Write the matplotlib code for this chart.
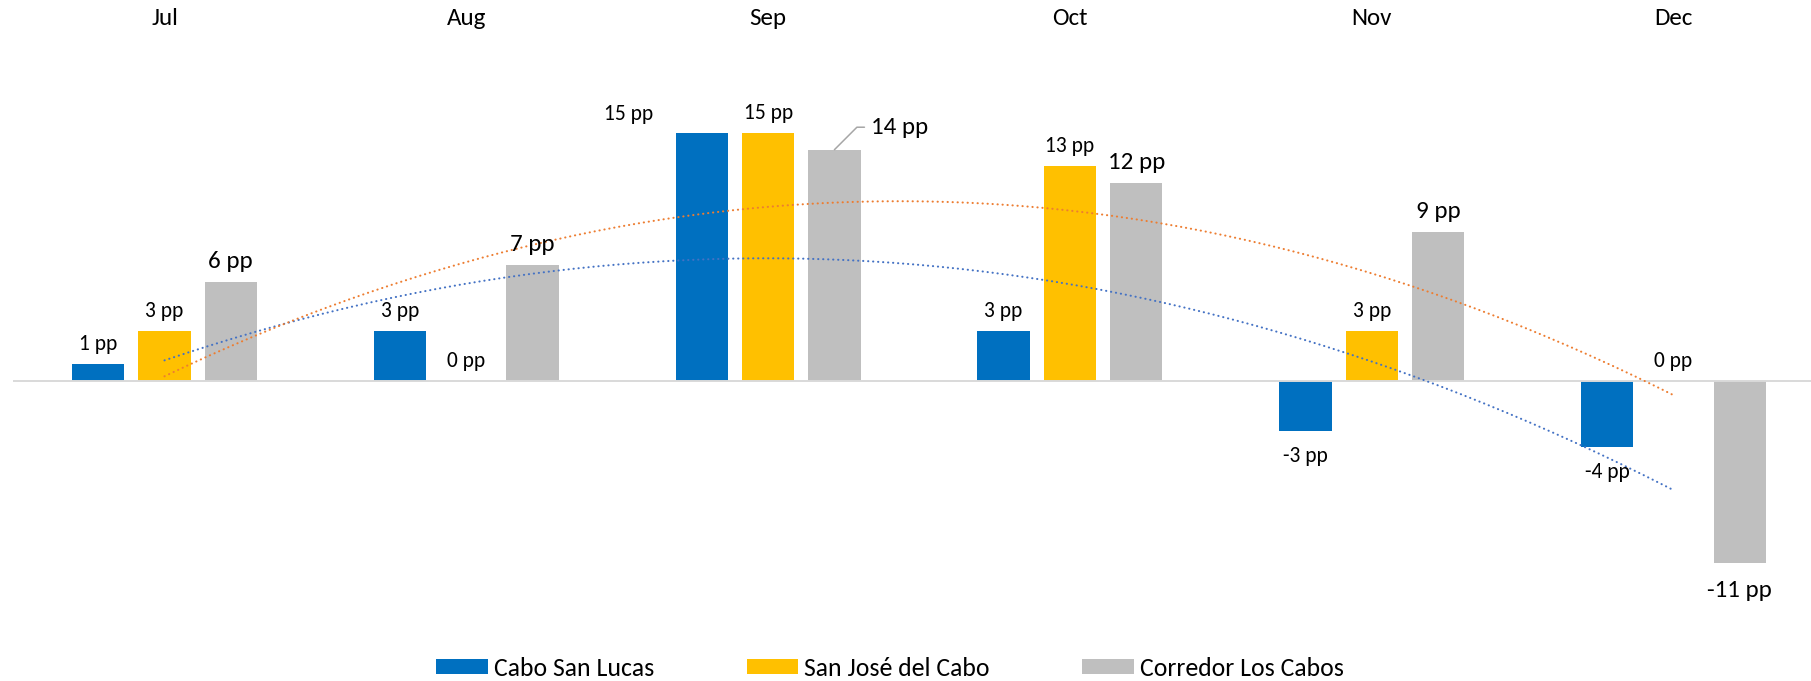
import matplotlib
matplotlib.use("Agg")
import matplotlib.pyplot as plt
import matplotlib.transforms as mtransforms
from matplotlib import font_manager
import numpy as np

months = ["Jul", "Aug", "Sep", "Oct", "Nov", "Dec"]
series_names = ["Cabo San Lucas", "San José del Cabo", "Corredor Los Cabos"]
cabo_san_lucas = [1, 3, 15, 3, -3, -4]
san_jose = [3, 0, 15, 13, 3, 0]
corredor = [6, 7, 14, 12, 9, -11]
colors = ["#0070C0", "#FFC000", "#BFBFBF"]
trend_colors = ["#4472C4", "#ED7D31"]

avail = {f.name for f in font_manager.fontManager.ttflist}
fam = [f for f in ["Carlito", "Lato", "DejaVu Sans"] if f in avail]
plt.rcParams["font.family"] = fam

W, H = 1811, 681
fig = plt.figure(figsize=(W / 100, H / 100), dpi=100)
ax = fig.add_axes([0, 0, 1, 1])
ax.set_axis_off()

# layout in pixels
x0_px, step_px = 164.5, 301.8
zero_px, unit_px = 381.0, 16.52
ax.set_xlim(-x0_px / step_px, (W - x0_px) / step_px)
ax.set_ylim(-(H - zero_px) / unit_px, zero_px / unit_px)

x = np.arange(len(months))
off = 66.3 / step_px
width = 52.3 / step_px
data = [cabo_san_lucas, san_jose, corredor]

bars = []
for k, vals in enumerate(data):
    b = ax.bar(x + (k - 1) * off, vals, width, color=colors[k], zorder=2,
               label=series_names[k])
    bars.append(b)

ax.axhline(0, xmin=14 / W, xmax=1, color="#D9D9D9", lw=1.4, zorder=3)

# polynomial (order 2) trendlines for first two series
xs = np.linspace(0, len(months) - 1, 200)
for k in range(2):
    coef = np.polyfit(x, data[k], 2)
    ax.plot(xs, np.polyval(coef, xs), color=trend_colors[k], lw=1.5,
            linestyle=(0, (0.1, 2.3)), dash_capstyle="round", zorder=4)

small, large = 15.5, 18
for k, vals in enumerate(data):
    fs = large if k == 2 else small
    for i, v in enumerate(vals):
        xi = x[i] + (k - 1) * off
        lab = f"{v} pp"
        if k == 2 and i == 2:
            ax.annotate(lab, xy=(xi, v), xytext=(37, 16), textcoords="offset pixels",
                        ha="left", va="baseline", fontsize=fs, color="#000000",
                        arrowprops=dict(arrowstyle="-", color="#A6A6A6", lw=1.1,
                                        connectionstyle="angle,angleA=0,angleB=45,rad=0",
                                        relpos=(0, 0.5), shrinkA=3, shrinkB=0),
                        zorder=5)
            continue
        if k == 0 and i == 2:
            dx, dy = -73, 13
        elif v >= 0:
            dx, dy = 0, 14
        else:
            dx, dy = 0, -(34 if k == 2 else 31)
        ax.annotate(lab, xy=(xi, v), xytext=(dx, dy), textcoords="offset pixels",
                    ha="center", va="baseline", fontsize=fs, color="#000000", zorder=5)

trans = mtransforms.blended_transform_factory(ax.transData, ax.transAxes)
for i, m in enumerate(months):
    ax.text(x[i], (H - 25) / H, m, transform=trans, ha="center", va="baseline",
            fontsize=18, color="#000000")

handles = [b for b in bars]
fig.legend(handles, series_names, loc="center", ncol=3,
           bbox_to_anchor=(890 / W, (H - 668.5) / H), frameon=False,
           fontsize=18.5, handlelength=2.0, handleheight=0.52, handletextpad=0.24,
           columnspacing=3.6)

fig.savefig("out.png", dpi=100)
